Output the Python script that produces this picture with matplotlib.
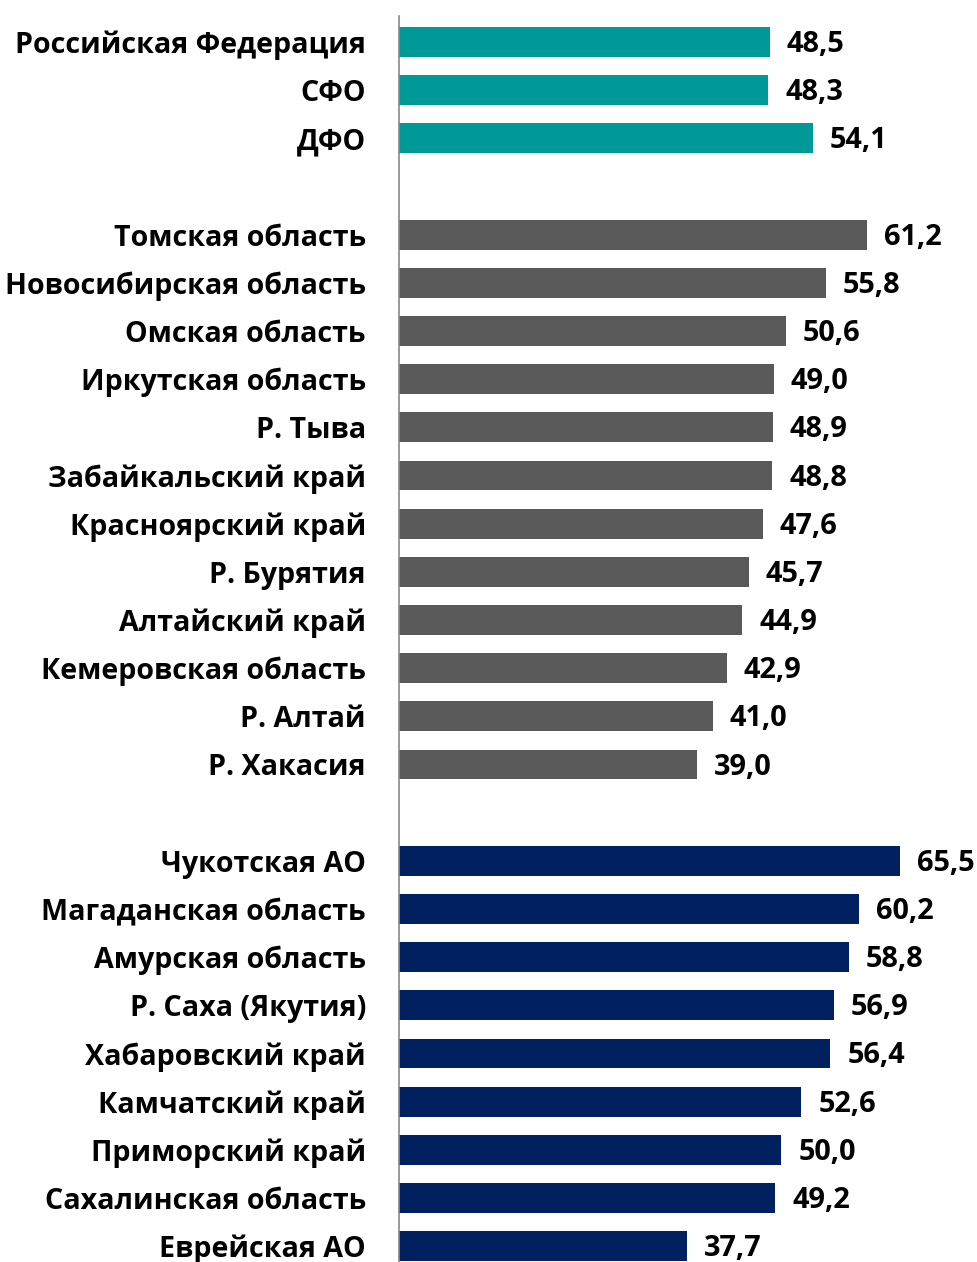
import matplotlib
matplotlib.use("Agg")
import matplotlib.pyplot as plt

groups = [
    (["Российская Федерация", "СФО", "ДФО"], [48.5, 48.3, 54.1], "#009999"),
    (["Томская область", "Новосибирская область", "Омская область", "Иркутская область",
      "Р. Тыва", "Забайкальский край", "Красноярский край", "Р. Бурятия",
      "Алтайский край", "Кемеровская область", "Р. Алтай", "Р. Хакасия"],
     [61.2, 55.8, 50.6, 49.0, 48.9, 48.8, 47.6, 45.7, 44.9, 42.9, 41.0, 39.0], "#595959"),
    (["Чукотская АО", "Магаданская область", "Амурская область", "Р. Саха (Якутия)",
      "Хабаровский край", "Камчатский край", "Приморский край", "Сахалинская область",
      "Еврейская АО"],
     [65.5, 60.2, 58.8, 56.9, 56.4, 52.6, 50.0, 49.2, 37.7], "#002060"),
]

plt.rcParams['font.family'] = ['Open Sans', 'DejaVu Sans']

W, H = 978, 1262
fig = plt.figure(figsize=(W / 100, H / 100), dpi=100)
top_px, bot_px = 16, 1262
ax = fig.add_axes([399 / W, 1 - bot_px / H, 1 - 399 / W, (bot_px - top_px) / H])

pos = 0
ticks, labels = [], []
for names, vals, color in groups:
    for n, v in zip(names, vals):
        ax.barh(pos, v, height=0.62, color=color, edgecolor="none")
        ax.text(v + 2.2, pos - 0.02, f"{v:.1f}".replace(".", ","), va="center_baseline", ha="left",
                fontsize=20.8, fontweight="bold", color="black")
        ticks.append(pos)
        labels.append(n)
        pos += 1
    pos += 1

ax.set_ylim(25.33, -0.54)
ax.set_xlim(0, 75.7)
ax.set_yticks(ticks)
ax.set_yticklabels(labels, fontsize=20.6, fontweight="bold", va="center_baseline")
ax.tick_params(axis="y", length=0, pad=23.8)
ax.set_xticks([])
for s in ["top", "right", "bottom"]:
    ax.spines[s].set_visible(False)
ax.spines["left"].set_color("#888888")
ax.spines["left"].set_linewidth(1.2)

fig.savefig("out.png", dpi=100)
